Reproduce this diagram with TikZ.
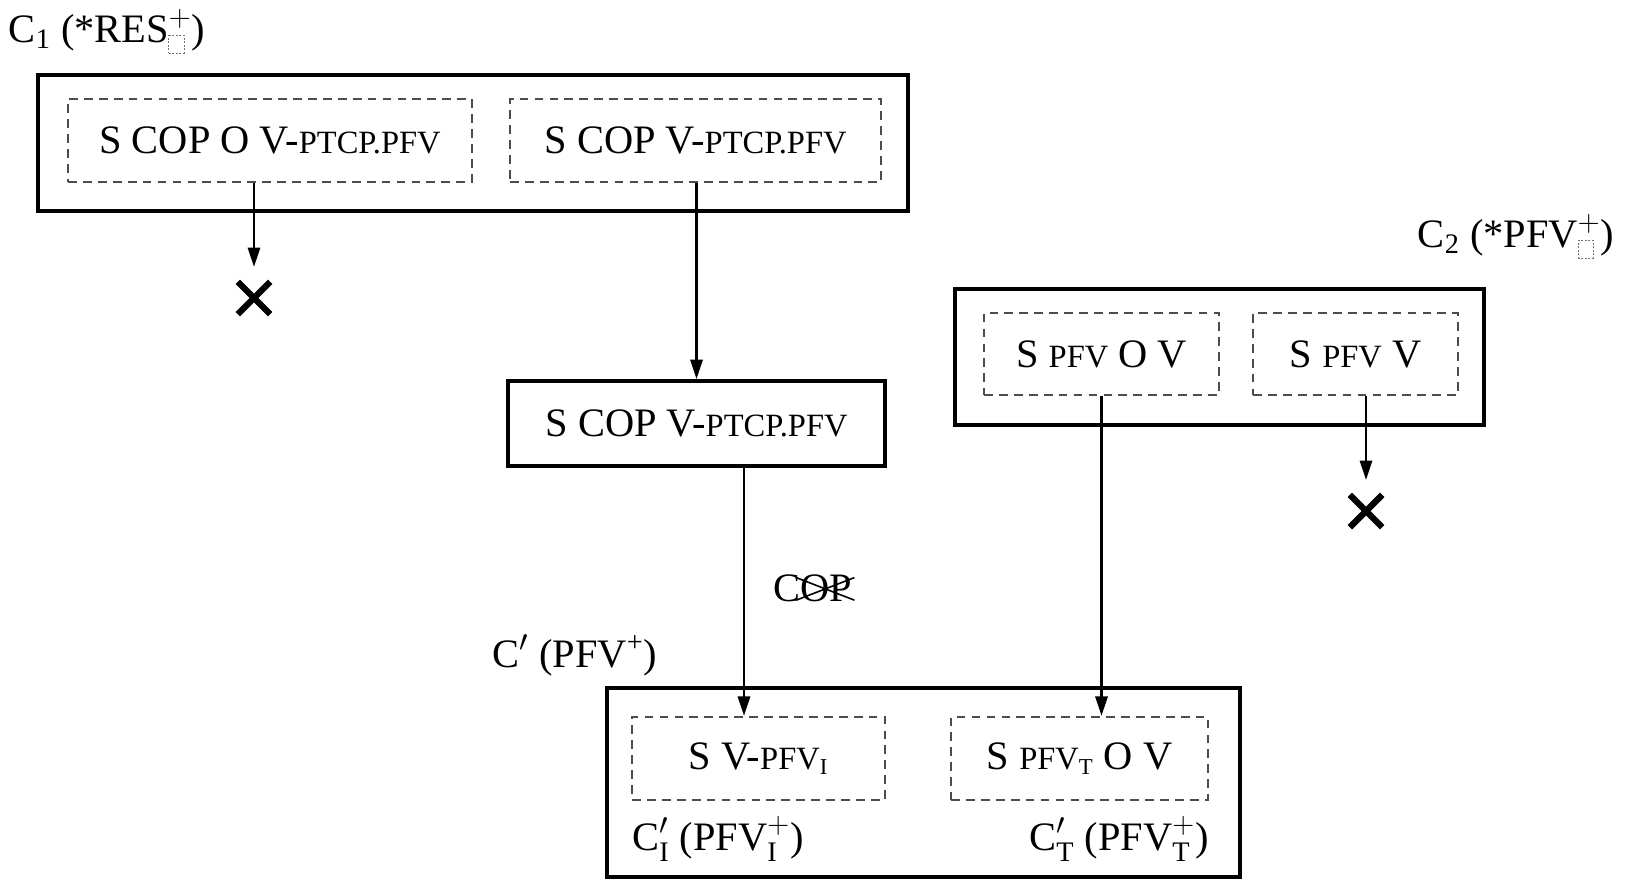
\documentclass[tikz,border=0pt]{standalone}
\usepackage{amsmath}
\usepackage{fontspec}
\setmainfont{Liberation Serif}
\usepackage{xcolor}
\usetikzlibrary{
    arrows.meta,
    shapes,
    shapes.misc,
    positioning,
    calc
}
\newcommand{\gl}[1]{{\fontsize{18.5}{20}\selectfont #1}}
\newcommand{\dsq}{{\color{black!55}\setlength{\unitlength}{1pt}\begin{picture}(9,10)\put(0,0){\dashbox{1}(9,10){}}\end{picture}}}
\tikzset{%
    >={Triangle[width=7pt,length=11pt]},
    % Specifications for style of nodes:
    plain/.style = {},
    base/.style = {
        plain,
        rectangle, text centered,
        font=\fontsize{23}{27}\selectfont,
        align=center, inner sep=1pt
    },
    outer/.style = {base, draw=black, line width=2.3pt},
    frame/.style = {base, draw=black!70, line width=1.4pt, dash pattern=on 5pt off 3.5pt},
    xmark/.style = {cross out, draw=black, line width=3.6pt, minimum size=0.52cm, inner sep=0pt},
    link/.style = {line width=1.2pt, ->}
}
\begin{document}
\begin{tikzpicture}[x=0.02cm, y=-0.02cm, label-node/.style={base}]
    \useasboundingbox (0,0) rectangle (1625,879);
    \node[outer, minimum width=17.4cm, minimum height=2.72cm] (C1box) at (473,143) {};
    \node[frame, minimum width=8.08cm, minimum height=1.66cm] (D1) at (270,140.5) {S COP O V-\gl{PTCP.PFV}};
    \node[frame, minimum width=7.42cm, minimum height=1.66cm] (D2) at (695.5,140.5) {S COP V-\gl{PTCP.PFV}};
    \node[label-node] (C1) at (107,31) {C\textsubscript{1} (*RES$^{+}_{\dsq}$)};
    \node[xmark] (X1) at (254,298) {};
    \node[outer, minimum width=7.54cm, minimum height=1.7cm] (S3) at (696.5,423.5) {S COP V-\gl{PTCP.PFV}};
    \node[outer, minimum width=10.58cm, minimum height=2.72cm] (C2box) at (1219.5,357) {};
    \node[frame, minimum width=4.7cm, minimum height=1.64cm] (D6) at (1101.5,354) {S \gl{PFV} O V};
    \node[frame, minimum width=4.1cm, minimum height=1.64cm] (D7) at (1355.5,354) {S \gl{PFV} V};
    \node[label-node] (C2) at (1516,236) {C\textsubscript{2} (*PFV$^{+}_{\dsq}$)};
    \node[xmark] (X2) at (1366,511) {};
    \node[outer, minimum width=12.66cm, minimum height=3.78cm] (Cbox) at (923.5,782.5) {};
    \node[frame, minimum width=5.06cm, minimum height=1.66cm] (D4) at (758.5,758.5) {S V-\gl{PFV$_{\text{I}}$}};
    \node[frame, minimum width=5.14cm, minimum height=1.66cm] (D5) at (1079.5,758.5) {S \gl{PFV$_{\text{T}}$} O V};
    \node[label-node] (Cp) at (575,655) {C$'$ (PFV\textsuperscript{+})};
    \node[label-node] (CI) at (718,839) {C$'_{\text{I}}$ (PFV$^{+}_{\text{I}}$)};
    \node[label-node] (CT) at (1119,839) {C$'_{\text{T}}$ (PFV$^{+}_{\text{T}}$)};
    \node[label-node] (COP) at (813,588) {COP};
    \draw[line width=0.9pt] ([xshift=14pt,yshift=-3pt]COP.north west) -- ([yshift=2pt]COP.south east);
    \draw[line width=0.9pt] ([xshift=14pt,yshift=2pt]COP.south west) -- ([yshift=-3pt]COP.north east);
    \draw[link] (X1 |- D1.south) -- ([yshift=0.3cm]X1.north);
    \draw[link] (D2.south -| S3.north) -- (S3.north);
    \draw[link] ([xshift=0.95cm]S3.south) -- ([xshift=0.95cm]S3.south |- D4.north);
    \draw[link] (D6.south) -- (D6.south |- D5.north);
    \draw[link] (X2 |- D7.south) -- ([yshift=0.3cm]X2.north);
\end{tikzpicture}
\end{document}
